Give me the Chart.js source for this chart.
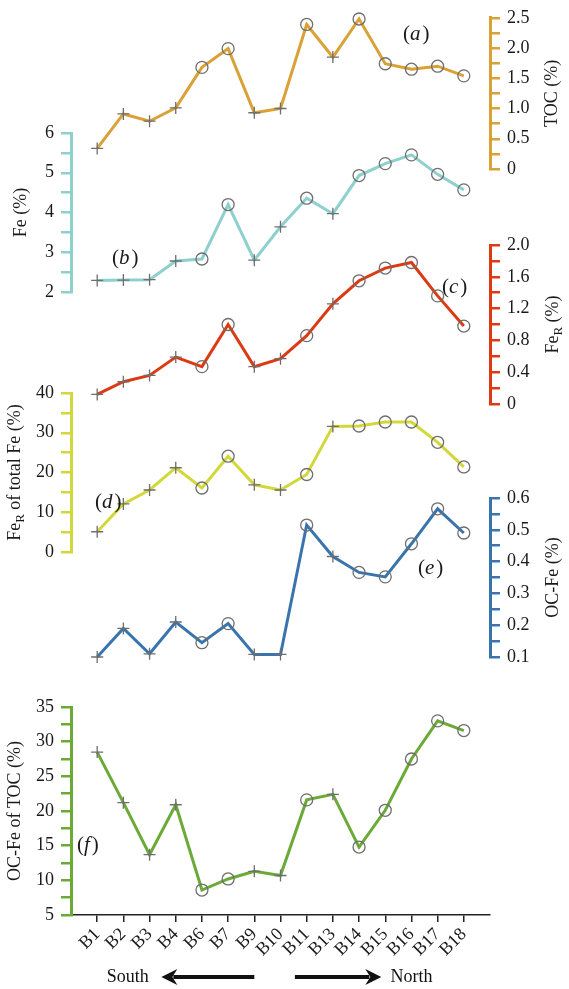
<!DOCTYPE html>
<html>
<head>
<meta charset="utf-8">
<script src="https://cdn.jsdelivr.net/npm/chart.js@4.4.0/dist/chart.umd.min.js"></script>
<style>
  html, body { margin: 0; padding: 0; background: #fff; }
  #wrap { position: relative; width: 569px; height: 989px; }
  #wrap canvas { position: absolute; left: 0; top: 0; }
</style>
</head>
<body>
<div id="wrap">
  <canvas id="panel-a" width="569" height="989"></canvas>
  <canvas id="panel-b" width="569" height="989"></canvas>
  <canvas id="panel-c" width="569" height="989"></canvas>
  <canvas id="panel-d" width="569" height="989"></canvas>
  <canvas id="panel-e" width="569" height="989"></canvas>
  <canvas id="panel-f" width="569" height="989"></canvas>
</div>
<script>
const stations = ["B1", "B2", "B3", "B4", "B6", "B7", "B9", "B10", "B11", "B13", "B14", "B15", "B16", "B17", "B18"];
// stations drawn with an open circle, the rest get a cross
const circleStations = ["B6", "B7", "B11", "B14", "B15", "B16", "B17", "B18"];

const toc = [0.34, 0.91, 0.79, 1.01, 1.68, 1.99, 0.93, 1.0, 2.39, 1.85, 2.48, 1.74, 1.65, 1.7, 1.54];
const fe = [2.29, 2.3, 2.31, 2.78, 2.83, 4.2, 2.8, 3.64, 4.36, 3.97, 4.93, 5.23, 5.45, 4.96, 4.57];
const feR = [0.12, 0.28, 0.36, 0.59, 0.47, 1.0, 0.47, 0.57, 0.86, 1.26, 1.55, 1.71, 1.78, 1.36, 0.98];
const feRShare = [5.1, 12.1, 15.6, 21.2, 16.1, 24.1, 16.9, 15.6, 19.5, 31.6, 31.7, 32.7, 32.7, 27.6, 21.4];
const ocFe = [0.1, 0.19, 0.11, 0.21, 0.145, 0.205, 0.108, 0.108, 0.515, 0.416, 0.366, 0.352, 0.456, 0.566, 0.49];
const ocFeShare = [28.5, 21.2, 13.7, 20.9, 8.6, 10.2, 11.3, 10.7, 21.6, 22.4, 14.8, 20.1, 27.5, 33.0, 31.6];

const tocTicks = ["0", "0.5", "1.0", "1.5", "2.0", "2.5"];
const feTicks = ["2", "3", "4", "5", "6"];
const feRTicks = ["0", "0.4", "0.8", "1.2", "1.6", "2.0"];
const feRShareTicks = ["0", "10", "20", "30", "40"];
const ocFeTicks = ["0.1", "0.2", "0.3", "0.4", "0.5", "0.6"];
const ocFeShareTicks = ["5", "10", "15", "20", "25", "30", "35"];

const W = 569, H = 989;
const PLOT_LEFT = 71, PLOT_RIGHT = 490;
const X_AXIS_H = 50;
const SERIF = '"Liberation Serif", "Times New Roman", serif';
const INK = "#1a1a1a";
const MARK = "#6e6e6e";

const markerStyles = stations.map((s) => (circleStations.includes(s) ? "circle" : "cross"));

const panelText = {
  id: "panelText",
  afterDraw(chart, args, opts) {
    const ctx = chart.ctx;
    const ys = chart.scales.y;

    // rotated axis title, reading bottom to top, with optional subscript
    ctx.save();
    ctx.fillStyle = INK;
    ctx.translate(opts.titleX, (ys.top + ys.bottom) / 2);
    ctx.rotate(-Math.PI / 2);
    ctx.textBaseline = "alphabetic";
    const fonts = opts.title.map((p) => (p[1] ? `13px ${SERIF}` : `18px ${SERIF}`));
    const widths = opts.title.map((p, i) => {
      ctx.font = fonts[i];
      return ctx.measureText(p[0]).width;
    });
    let x = -widths.reduce((a, b) => a + b, 0) / 2;
    opts.title.forEach((p, i) => {
      ctx.font = fonts[i];
      ctx.fillText(p[0], x, p[1] ? 10 : 6);
      x += widths[i];
    });
    ctx.restore();

    // panel tag like (a), letter in italics
    ctx.save();
    ctx.fillStyle = INK;
    ctx.textBaseline = "middle";
    let tx = opts.tagX;
    [["(", false], [opts.tag, true], [")", false]].forEach(([t, it]) => {
      ctx.font = (it ? "italic " : "") + `21px ${SERIF}`;
      ctx.fillText(t, tx, opts.tagY);
      tx += ctx.measureText(t).width + (it ? 2 : 0);
    });
    ctx.restore();

    if (opts.arrows) {
      const xs = chart.scales.x;
      const ay = 977;
      const arrow = (from, to) => {
        const x0 = xs.getPixelForValue(from), x1 = xs.getPixelForValue(to);
        const dir = Math.sign(x1 - x0);
        ctx.beginPath();
        ctx.moveTo(x0, ay);
        ctx.lineTo(x1 - dir * 12, ay);
        ctx.stroke();
        ctx.beginPath();
        ctx.moveTo(x1, ay);
        ctx.lineTo(x1 - dir * 16, ay - 8);
        ctx.lineTo(x1 - dir * 11, ay);
        ctx.lineTo(x1 - dir * 16, ay + 8);
        ctx.closePath();
        ctx.fill();
      };
      ctx.save();
      ctx.strokeStyle = "#111";
      ctx.fillStyle = "#111";
      ctx.lineWidth = 4;
      arrow(7.0, 3.45);
      arrow(8.55, 11.85);
      ctx.font = `18px ${SERIF}`;
      ctx.textBaseline = "middle";
      ctx.textAlign = "right";
      ctx.fillText("South", xs.getPixelForValue(2.97), ay);
      ctx.textAlign = "left";
      ctx.fillText("North", xs.getPixelForValue(12.2), ay);
      ctx.restore();
    }
  },
};

function drawPanel(id, values, tickLabels, style) {
  const nums = tickLabels.map(Number);
  const major = nums[1] - nums[0];
  const onRight = style.side === "right";
  const bottomPad = H - style.bottom - (style.xAxis ? X_AXIS_H : 0);

  new Chart(document.getElementById(id), {
    type: "line",
    data: {
      datasets: [
        {
          data: values.map((v, i) => ({ x: i + 1, y: v })),
          borderColor: style.color,
          borderWidth: 3,
          tension: 0,
          clip: false,
          pointStyle: markerStyles,
          pointRadius: 6,
          pointBorderColor: MARK,
          pointBackgroundColor: "rgba(0,0,0,0)",
          pointBorderWidth: 1.3,
        },
      ],
    },
    options: {
      responsive: false,
      animation: false,
      events: [],
      layout: {
        padding: {
          top: style.top,
          bottom: bottomPad,
          left: onRight ? PLOT_LEFT : 0,
          right: onRight ? 0 : W - PLOT_RIGHT,
        },
      },
      plugins: {
        legend: { display: false },
        tooltip: { enabled: false },
        panelText: style.text,
      },
      scales: {
        x: {
          type: "linear",
          min: 0,
          max: stations.length + 1,
          display: !!style.xAxis,
          afterFit: (s) => { s.height = X_AXIS_H; },
          afterBuildTicks: (s) => {
            s.ticks = s.ticks.filter((t) => t.value >= 1 && t.value <= stations.length);
          },
          border: { color: "#222", width: 1.5 },
          grid: { drawOnChartArea: false, drawTicks: true, tickLength: 7, color: "#222", lineWidth: 1.5 },
          ticks: {
            stepSize: 1,
            autoSkip: false,
            maxRotation: 45,
            minRotation: 45,
            padding: 2,
            color: INK,
            font: { family: SERIF, size: 18 },
            callback: (v) => stations[v - 1],
          },
        },
        y: {
          type: "linear",
          position: style.side,
          min: nums[0],
          max: nums[nums.length - 1],
          afterFit: (s) => { s.width = onRight ? W - PLOT_RIGHT : PLOT_LEFT; },
          border: { color: style.color, width: 3 },
          grid: { drawOnChartArea: false, drawTicks: true, tickLength: 10, color: style.color, lineWidth: 2.5 },
          ticks: {
            stepSize: major / 2,
            autoSkip: false,
            padding: 7,
            color: INK,
            font: { family: SERIF, size: 18 },
            callback: (v) => {
              const k = nums.findIndex((n) => Math.abs(n - v) < major * 1e-3);
              return k >= 0 ? tickLabels[k] : "";
            },
          },
        },
      },
    },
    plugins: [panelText],
  });
}

drawPanel("panel-a", toc, tocTicks, {
  side: "right", top: 11, bottom: 219, color: "#D9A136",
  text: { title: [["TOC (%)", false]], titleX: 551, tag: "a", tagX: 403, tagY: 34 },
});
drawPanel("panel-b", fe, feTicks, {
  side: "left", top: 133, bottom: 342, color: "#8ED0CE",
  text: { title: [["Fe (%)", false]], titleX: 20, tag: "b", tagX: 112, tagY: 258 },
});
drawPanel("panel-c", feR, feRTicks, {
  side: "right", top: 245, bottom: 454, color: "#DA3B12",
  text: { title: [["Fe", false], ["R", true], [" (%)", false]], titleX: 552, tag: "c", tagX: 442, tagY: 287 },
});
drawPanel("panel-d", feRShare, feRShareTicks, {
  side: "left", top: 393, bottom: 602, color: "#D2D83A",
  text: { title: [["Fe", false], ["R", true], [" of total Fe (%)", false]], titleX: 14, tag: "d", tagX: 95, tagY: 502 },
});
drawPanel("panel-e", ocFe, ocFeTicks, {
  side: "right", top: 498, bottom: 707, color: "#3A74AC",
  text: { title: [["OC-Fe (%)", false]], titleX: 552, tag: "e", tagX: 418, tagY: 568 },
});
drawPanel("panel-f", ocFeShare, ocFeShareTicks, {
  side: "left", top: 707, bottom: 915, color: "#6BAA36", xAxis: true,
  text: { title: [["OC-Fe of TOC (%)", false]], titleX: 14, tag: "f", tagX: 77, tagY: 845, arrows: true },
});
</script>
</body>
</html>
